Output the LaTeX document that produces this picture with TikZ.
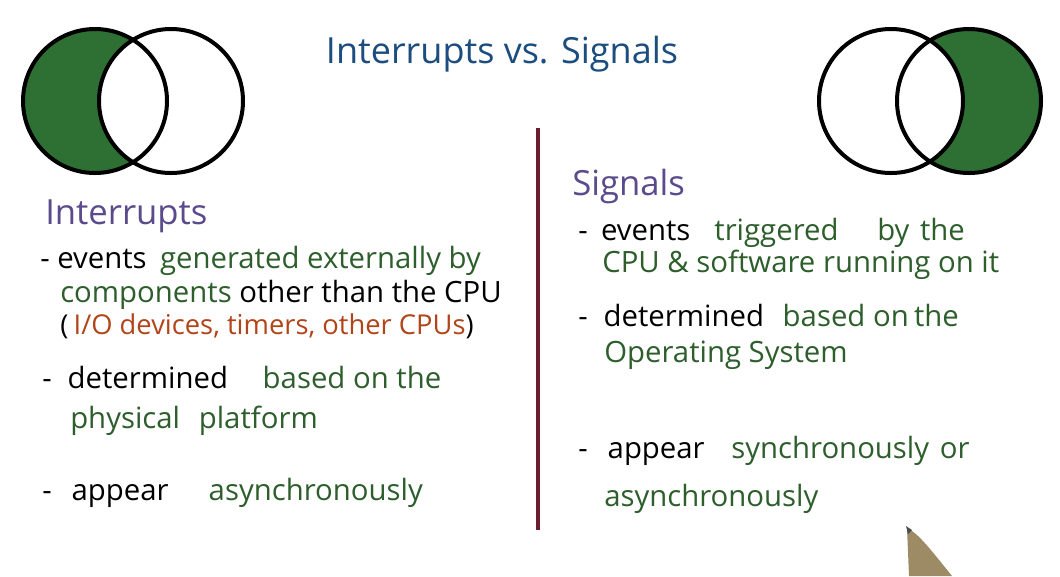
\documentclass[tikz,border=0pt]{standalone}
\usepackage{fontspec}
\setmainfont{Open Sans}
\definecolor{vfill}{HTML}{2E7034}
\definecolor{tgreen}{HTML}{2D5E2C}
\definecolor{tblue}{HTML}{1B4D7E}
\definecolor{tpurple}{HTML}{5B4A8C}
\definecolor{torange}{HTML}{B2441A}
\definecolor{tmaroon}{HTML}{6A1F2F}
\definecolor{pencil}{HTML}{9C8B65}
\newcommand{\gp}[1]{\hspace*{#1pt}}
\begin{document}
\begin{tikzpicture}[x=0.75pt,y=-0.75pt,
  venn/.style={draw=black,line width=3pt},
  txt/.style={anchor=base west,inner sep=0pt,font=\fontsize{22}{25}\selectfont,text=black},
  head/.style={anchor=base west,inner sep=0pt,font=\fontsize{26}{29}\selectfont,text=tpurple},
  title/.style={anchor=base,inner sep=0pt,font=\fontsize{27}{30}\selectfont,text=tblue}]
\useasboundingbox (0,0) rectangle (1060,576);
\fill[white] (0,0) rectangle (1060,576);
% left Venn
\begin{scope}
  \clip (95,101) circle (72);
  \fill[vfill] (0,0) rectangle (400,200);
  \fill[white] (171,101) circle (72);
\end{scope}
\draw[venn] (95,101) circle (72);
\draw[venn] (171,101) circle (72);
% right Venn
\begin{scope}
  \clip (969,101) circle (72);
  \fill[vfill] (700,0) rectangle (1060,200);
  \fill[white] (891,101) circle (72);
\end{scope}
\draw[venn] (891,101) circle (72);
\draw[venn] (969,101) circle (72);
% title
\node[title] (ttl) at (502,63) {Interrupts vs. Signals};
% divider
\coordinate (dtop) at (538,128);
\coordinate (dbot) at (538,530);
\draw[tmaroon,line width=2.4pt] (dtop) -- (dbot);
% left column
\node[head] (lh) at (45,224) {Interrupts};
\node[txt] (l1) at (40,268) {- events\gp{10}\textcolor{tgreen}{generated externally by}};
\node[txt] (l2) at (60,302) {\textcolor{tgreen}{components} other than the CPU};
\node[txt,font=\fontsize{20.5}{24}\selectfont] (l3) at (60,334) {(\gp{4}\textcolor{torange}{I/O devices, timers, other CPUs})};
\node[txt] (l4) at (42,388) {-\gp{12}determined\gp{26}\textcolor{tgreen}{based on the}};
\node[txt] (l5) at (70,428) {\textcolor{tgreen}{physical\gp{14}platform}};
\node[txt] (l6) at (42,500) {-\gp{15}appear\gp{30}\textcolor{tgreen}{asynchronously}};
% right column
\node[head] (rh) at (572,195) {Signals};
\node[txt] (r1) at (578,240) {-\gp{10}events\gp{18}\textcolor{tgreen}{triggered\gp{29}by\gp{8}the}};
\node[txt] (r2) at (602,272) {\textcolor{tgreen}{CPU \& software running on it}};
\node[txt] (r3) at (578,326) {-\gp{12}determined\gp{14}\textcolor{tgreen}{based on\gp{4}the}};
\node[txt] (r4) at (604,362) {\textcolor{tgreen}{Operating System}};
\node[txt] (r5) at (578,458) {-\gp{15}appear\gp{20}\textcolor{tgreen}{synchronously\gp{8}or}};
\node[txt] (r6) at (604,506) {\textcolor{tgreen}{asynchronously}};
% pencil tip
\fill[pencil] (907,528) -- (909,576) -- (952,576) .. controls (935,555) and (922,538) .. (912,531) -- cycle;
\fill[black!70] (906,526) -- (912,530) -- (908,534) -- cycle;
\end{tikzpicture}
\end{document}
